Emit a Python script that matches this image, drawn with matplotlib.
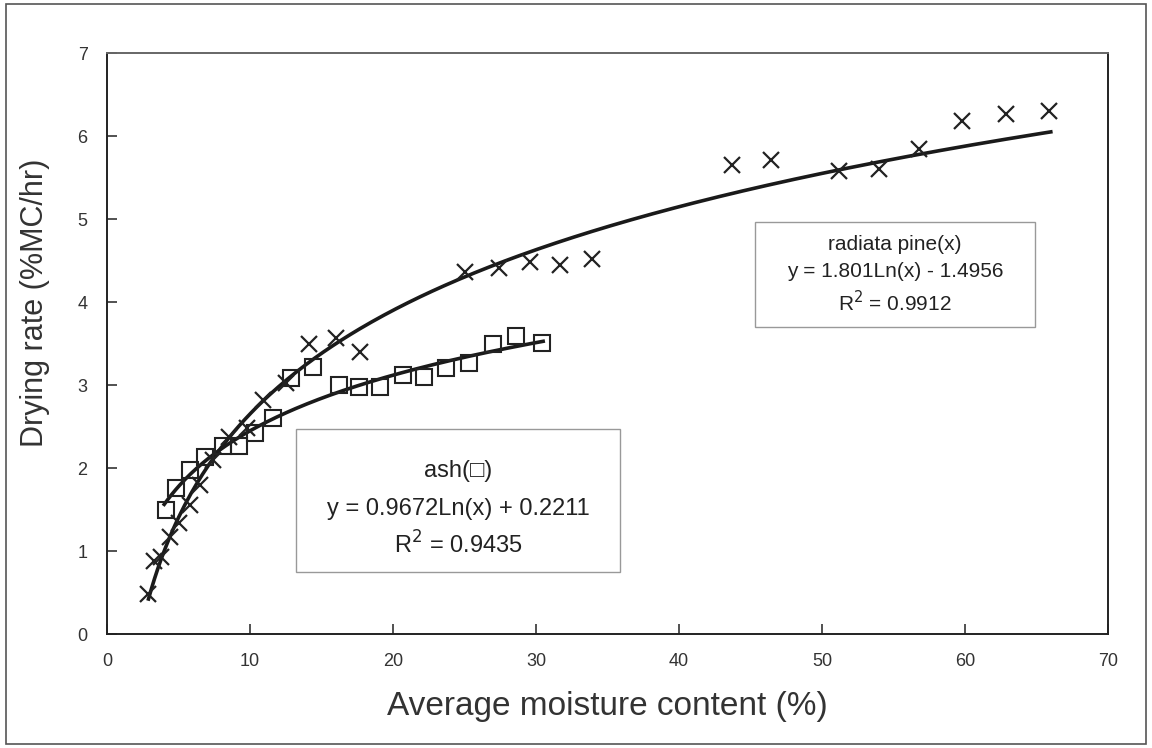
import numpy as np
import matplotlib
matplotlib.use('Agg')
import matplotlib.pyplot as plt
from matplotlib.patches import Rectangle

# radiata pine (x markers)
pine_mc = [2.9, 3.3, 3.8, 4.4, 5.0, 5.8, 6.5, 7.4, 8.5, 9.8, 10.9, 12.5, 14.1, 16.0, 17.7,
           25.0, 27.4, 29.6, 31.7, 33.9, 43.7, 46.4, 51.2, 54.0, 56.8, 59.8, 62.9, 65.9]
pine_rate = [0.48, 0.88, 0.93, 1.17, 1.34, 1.55, 1.80, 2.10, 2.37, 2.48, 2.82, 3.02, 3.50, 3.57, 3.40,
             4.36, 4.41, 4.48, 4.45, 4.52, 5.65, 5.71, 5.58, 5.60, 5.84, 6.18, 6.27, 6.30]

# ash (square markers)
ash_mc = [4.15, 4.8, 5.8, 6.85, 8.1, 9.2, 10.35, 11.6, 12.9, 14.4, 16.2, 17.6, 19.1, 20.7,
          22.2, 23.7, 25.3, 27.0, 28.6, 30.4]
ash_rate = [1.50, 1.76, 1.98, 2.13, 2.27, 2.26, 2.42, 2.60, 3.08, 3.22, 3.00, 2.98, 2.98, 3.12,
            3.10, 3.20, 3.26, 3.50, 3.59, 3.51]

# log fits y = a*ln(x) + b
pine_a, pine_b = 1.801, -1.4956
ash_a, ash_b = 0.9672, 0.2211

x_ticks = [0, 10, 20, 30, 40, 50, 60, 70]
y_ticks = [0, 1, 2, 3, 4, 5, 6, 7]

plt.rcParams['font.family'] = ['Liberation Sans', 'DejaVu Sans']

fig = plt.figure(figsize=(11.52, 7.48), dpi=100)
fig.patches.append(Rectangle((0.005, 0.006), 0.99, 0.988, transform=fig.transFigure,
                             fill=False, edgecolor='#555555', linewidth=1.2))
ax = fig.add_axes([0.0929, 0.1524, 0.8689, 0.7767])

xf = np.linspace(min(pine_mc), 66.0, 300)
ax.plot(xf, pine_a * np.log(xf) + pine_b, color='#1a1a1a', lw=2.6, zorder=2)
xa = np.linspace(4.0, 30.5, 200)
ax.plot(xa, ash_a * np.log(xa) + ash_b, color='#1a1a1a', lw=2.6, zorder=2)

ax.plot(pine_mc, pine_rate, linestyle='none', marker='x', ms=12, mew=1.6,
        color='#222222', zorder=3)
ax.plot(ash_mc, ash_rate, linestyle='none', marker='s', ms=12, mew=1.5,
        mfc='none', mec='#222222', zorder=3)

ax.set_xlim(0, 70)
ax.set_ylim(0, 7)
ax.set_xticks(x_ticks)
ax.set_yticks(y_ticks)
ax.tick_params(direction='in', length=7, width=1.2, color='#333333',
               labelsize=13, labelcolor='#333333', pad=14)
for s in ax.spines.values():
    s.set_linewidth(1.4)
    s.set_color('#222222')
ax.spines['top'].set_color('#666666')

ax.set_xlabel('Average moisture content (%)', fontsize=24,
              color='#333333', labelpad=15)
ax.set_ylabel('Drying rate (%MC/hr)', fontsize=22, color='#333333')
ax.yaxis.set_label_coords(-0.057, 0.57)

# equation boxes
def eq_box(x0, y0, w, h, lines, ys, size):
    ax.add_patch(Rectangle((x0, y0), w, h, fill=True, facecolor='white',
                           edgecolor='#999999', linewidth=1.0, zorder=4))
    for t, yy in zip(lines, ys):
        ax.text(x0 + w / 2, yy, t, ha='center', va='center', fontsize=size,
                color='#222222', zorder=5)

eq_box(13.2, 0.75, 22.7, 1.72,
       ['ash(□)', 'y = 0.9672Ln(x) + 0.2211', 'R$^2$ = 0.9435'],
       [1.97, 1.51, 1.07], 17)
eq_box(45.3, 3.70, 19.6, 1.26,
       ['radiata pine(x)', 'y = 1.801Ln(x) - 1.4956', 'R$^2$ = 0.9912'],
       [4.69, 4.37, 3.99], 15)

fig.savefig('out.png', dpi=100)
